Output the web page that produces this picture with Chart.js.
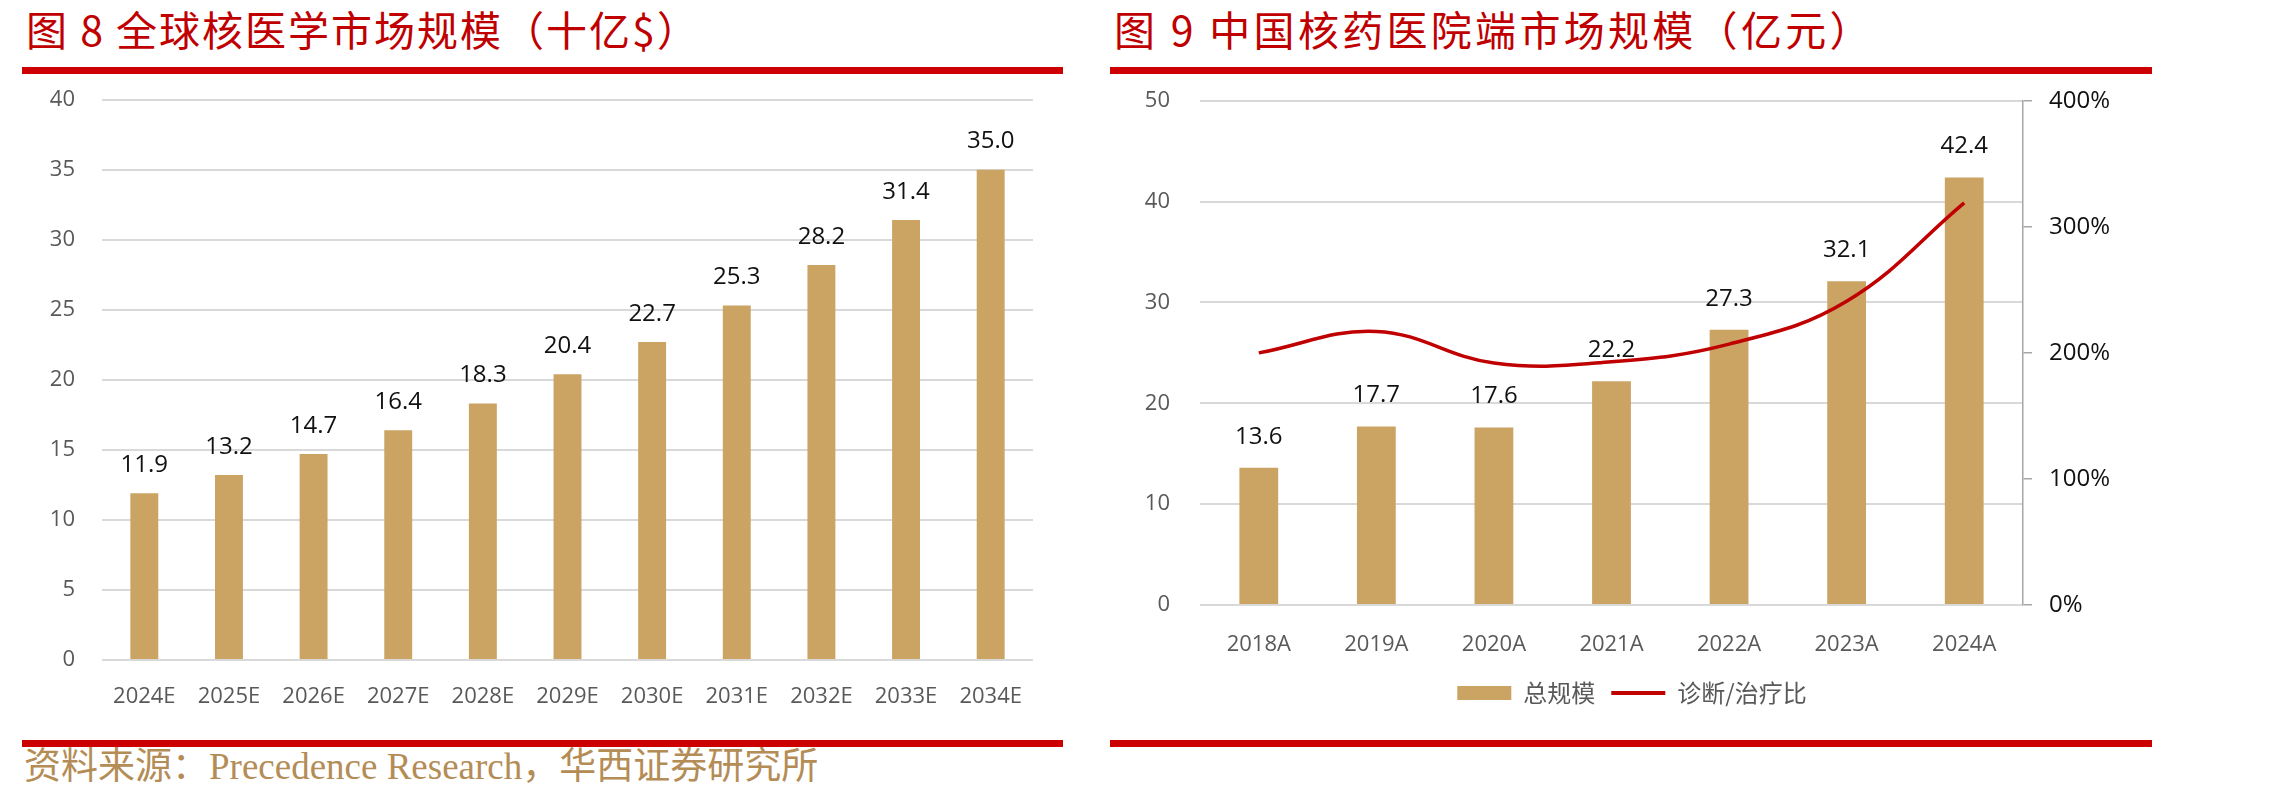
<!DOCTYPE html>
<html>
<head>
<meta charset="utf-8">
<script src="https://cdn.jsdelivr.net/npm/chart.js@4.4.0/dist/chart.umd.min.js"></script>
<style>
html,body{margin:0;padding:0;background:#fff;}
body{width:2284px;height:800px;overflow:hidden;position:relative;}
.title{position:absolute;top:8px;white-space:nowrap;font-family:"Noto Sans CJK SC",sans-serif;color:#C00000;font-size:41px;line-height:40px;letter-spacing:2px;}
.rule{position:absolute;background:#CC0000;height:7px;}
.src{position:absolute;left:24px;top:747px;white-space:nowrap;font-family:"Liberation Serif","Noto Sans CJK SC",serif;color:#B48C55;font-size:37px;line-height:40px;}
canvas{position:absolute;}
</style>
</head>
<body>
<div class="title" style="left:26px;">图 8 全球核医学市场规模（十亿$）</div>
<div class="title" style="left:1114px;letter-spacing:3.3px;">图 9 中国核药医院端市场规模（亿元）</div>
<div class="rule" style="left:22px;top:67px;width:1041px;"></div>
<div class="rule" style="left:1110px;top:67px;width:1042px;"></div>
<div class="rule" style="left:22px;top:740px;width:1041px;"></div>
<div class="rule" style="left:1110px;top:740px;width:1042px;"></div>
<div class="src">资料来源：Precedence Research，华西证券研究所</div>
<canvas id="c1" width="1100" height="640" style="left:0px;top:80px;width:1100px;height:640px;"></canvas>
<canvas id="c2" width="1064" height="680" style="left:1100px;top:80px;width:1064px;height:680px;"></canvas>
<script>
// ---- data ----
const globalYears = ['2024E','2025E','2026E','2027E','2028E','2029E','2030E','2031E','2032E','2033E','2034E'];
const globalMarket = [11.9, 13.2, 14.7, 16.4, 18.3, 20.4, 22.7, 25.3, 28.2, 31.4, 35.0];
const cnYears = ['2018A','2019A','2020A','2021A','2022A','2023A','2024A'];
const cnMarket = [13.6, 17.7, 17.6, 22.2, 27.3, 32.1, 42.4];
const diagTherapyRatio = [200, 217, 192, 193, 207, 241, 319];
const seriesNames = ['总规模', '诊断/治疗比'];

const BAR = '#CBA464';
const LINE = '#C00000';
const GRID = '#D9D9D9';
const TICK = '#595959';
const NUM_FONT = '"Open Sans","Liberation Sans",sans-serif';

Chart.defaults.font.family = NUM_FONT;
Chart.defaults.animation = false;

function fixV(width) {
  return function (s) { s.width = width; s.paddingTop = 0; s.paddingBottom = 0; };
}
function fixH(height) {
  return function (s) { s.height = height; s.paddingLeft = 0; s.paddingRight = 0; };
}

function valueLabels(offset, fmt) {
  return {
    id: 'valueLabels',
    afterDatasetsDraw(chart) {
      const ctx = chart.ctx;
      chart.data.datasets.forEach((ds, di) => {
        if (ds.type === 'line') return;
        const meta = chart.getDatasetMeta(di);
        meta.data.forEach((el, i) => {
          ctx.save();
          ctx.font = '24px ' + NUM_FONT;
          ctx.fillStyle = '#111';
          ctx.textAlign = 'center';
          ctx.textBaseline = 'middle';
          ctx.fillText(fmt(ds.data[i]), el.x, el.y - offset);
          ctx.restore();
        });
      });
    }
  };
}

// ---- left chart ----
new Chart(document.getElementById('c1'), {
  type: 'bar',
  data: {
    labels: globalYears,
    datasets: [{
      data: globalMarket,
      backgroundColor: BAR,
      categoryPercentage: 1,
      barPercentage: 0.33
    }]
  },
  options: {
    responsive: false,
    devicePixelRatio: 1,
    layout: {padding: {top: 19.6, left: 0, right: 67, bottom: 0}},
    plugins: {legend: {display: false}, tooltip: {enabled: false}},
    scales: {
      x: {
        grid: {display: false},
        border: {display: false},
        ticks: {color: TICK, font: {size: 22}, padding: 16, maxRotation: 0},
        afterFit: fixH(60)
      },
      y: {
        min: 0, max: 40,
        ticks: {stepSize: 5, color: TICK, font: {size: 22}, padding: 27},
        grid: {color: GRID, lineWidth: 2, drawTicks: false},
        border: {display: false},
        afterFit: fixV(102)
      }
    }
  },
  plugins: [valueLabels(28, v => v.toFixed(1))]
});

// ---- right chart ----
new Chart(document.getElementById('c2'), {
  data: {
    labels: cnYears,
    datasets: [{
      type: 'bar',
      label: seriesNames[0],
      data: cnMarket,
      backgroundColor: BAR,
      categoryPercentage: 1,
      barPercentage: 0.33,
      yAxisID: 'y',
      order: 1
    }, {
      type: 'line',
      label: seriesNames[1],
      data: diagTherapyRatio,
      borderColor: LINE,
      backgroundColor: LINE,
      borderWidth: 3.5,
      pointRadius: 0,
      tension: 0.4,
      yAxisID: 'y1',
      order: 0
    }]
  },
  options: {
    responsive: false,
    devicePixelRatio: 1,
    layout: {padding: {top: 20.8, left: 0, right: 0, bottom: 45}},
    plugins: {
      tooltip: {enabled: false},
      legend: {
        position: 'bottom',
        labels: {
          usePointStyle: true,
          pointStyleWidth: 54,
          boxHeight: 14,
          padding: 16,
          color: TICK,
          font: {size: 24, family: '"Noto Sans CJK SC",sans-serif'},
          generateLabels(chart) {
            const items = Chart.defaults.plugins.legend.labels.generateLabels(chart);
            items.sort((a, b) => a.datasetIndex - b.datasetIndex);
            items.forEach(it => {
              if (it.datasetIndex === 0) {
                it.pointStyle = 'rect'; it.fillStyle = BAR; it.strokeStyle = BAR; it.lineWidth = 0;
              } else {
                it.pointStyle = 'line'; it.strokeStyle = LINE; it.lineWidth = 4;
              }
            });
            return items;
          }
        }
      }
    },
    scales: {
      x: {
        grid: {display: false},
        border: {display: false},
        ticks: {color: TICK, font: {size: 22}, padding: 18.8, maxRotation: 0},
        afterFit: fixH(60)
      },
      y: {
        position: 'left',
        min: 0, max: 50,
        ticks: {stepSize: 10, color: TICK, font: {size: 22}, padding: 30},
        grid: {color: GRID, lineWidth: 2, drawTicks: false},
        border: {display: false},
        afterFit: fixV(100)
      },
      y1: {
        position: 'right',
        min: 0, max: 400,
        ticks: {stepSize: 100, color: '#111', font: {size: 24}, padding: 17, callback: v => v + '%'},
        grid: {drawOnChartArea: false, drawTicks: true, tickLength: 9, color: '#A6A6A6', lineWidth: 1.5},
        border: {display: true, color: '#A6A6A6', width: 1.5},
        afterFit: fixV(141)
      }
    }
  },
  plugins: [valueLabels(31, v => v.toFixed(1))]
});
</script>
</body>
</html>
